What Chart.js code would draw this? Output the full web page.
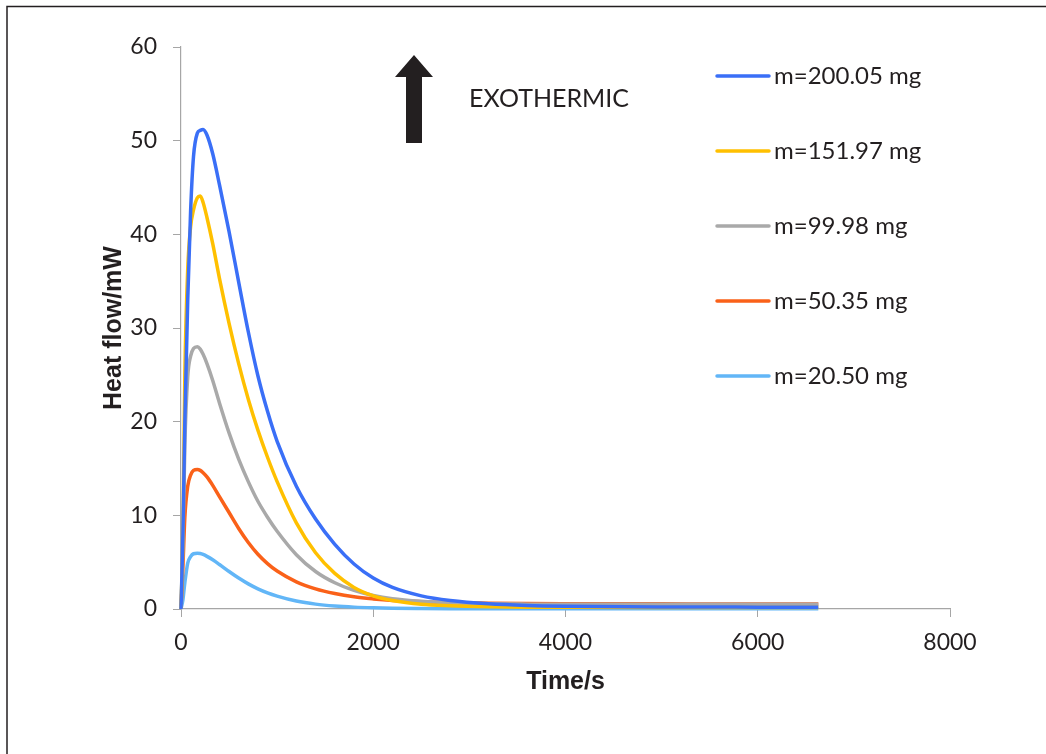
<!DOCTYPE html>
<html>
<head>
<meta charset="utf-8">
<script src="https://cdn.jsdelivr.net/npm/chart.js@4.4.1/dist/chart.umd.min.js"></script>
<style>
  html, body { margin: 0; padding: 0; background: #ffffff; }
  #wrap { position: relative; width: 1046px; height: 754px; }
</style>
</head>
<body>
<div id="wrap"><canvas id="c" width="1046" height="754"></canvas></div>
<script>
// ---- data ----
const times = [0, 20, 40, 70, 100, 130, 170, 200, 230, 270, 330, 400, 500, 600, 700, 800, 900, 1000, 1200, 1400, 1600, 1800, 2000, 2200, 2500, 2800, 3200, 3600, 4000, 5000, 6000, 6630];

const seriesLabels = ["m=200.05 mg", "m=151.97 mg", "m=99.98 mg", "m=50.35 mg", "m=20.50 mg"];

const heat200 = [0, 8, 20, 33, 42.5, 48.3, 50.8, 51.1, 51.2, 50.6, 48.6, 45.3, 40.3, 34.9, 29.6, 24.9, 21.1, 17.9, 13.1, 9.6, 6.9, 4.8, 3.3, 2.3, 1.4, 0.9, 0.55, 0.38, 0.3, 0.22, 0.2, 0.2];
const heat152 = [0, 8, 25, 36.3, 40.8, 42.6, 43.9, 44.1, 43.4, 41.8, 39.0, 35.3, 30.5, 26.2, 22.4, 19.1, 16.2, 13.6, 9.2, 6.0, 3.8, 2.3, 1.4, 0.9, 0.5, 0.35, 0.25, 0.2, 0.18, 0.15, 0.15, 0.15];
const heat100 = [0, 7, 17.5, 24.8, 27.0, 27.8, 28.0, 27.75, 27.2, 26.2, 24.4, 22.0, 18.8, 16.0, 13.6, 11.5, 9.8, 8.3, 5.8, 4.0, 2.8, 2.0, 1.45, 1.1, 0.82, 0.66, 0.56, 0.52, 0.5, 0.5, 0.5, 0.5];
const heat50 = [0, 4.5, 9.8, 13.1, 14.3, 14.8, 14.9, 14.8, 14.55, 14.1, 13.2, 12.0, 10.3, 8.6, 7.1, 5.85, 4.85, 4.05, 2.9, 2.15, 1.65, 1.3, 1.08, 0.92, 0.78, 0.68, 0.62, 0.58, 0.57, 0.55, 0.53, 0.53];
const heat20 = [0, 1.0, 2.8, 4.9, 5.6, 5.9, 5.95, 5.92, 5.82, 5.62, 5.25, 4.75, 4.0, 3.3, 2.68, 2.15, 1.72, 1.38, 0.85, 0.52, 0.32, 0.2, 0.13, 0.09, 0.06, 0.04, 0.03, 0.02, 0.02, 0.02, 0.02, 0.02];

const seriesValues = [heat200, heat152, heat100, heat50, heat20];
const seriesColors = ["#3A6FF7", "#FFC000", "#A9A9A9", "#FA6119", "#62B6F7"];

const xTicks = [0, 2000, 4000, 6000, 8000];
const yTicks = [0, 10, 20, 30, 40, 50, 60];

const annotationText = "EXOTHERMIC";
const xTitle = "Time/s";
const yTitle = "Heat flow/mW";

// ---- chart ----
const TICK_FONT = { family: "Lato, 'Open Sans', sans-serif", size: 23 };
const TEXT_COLOR = "#231f20";
const AXIS_COLOR = "#a6a6a6";

const datasets = seriesValues.map((vals, i) => ({
  label: seriesLabels[i],
  data: times.map((t, k) => ({ x: t, y: vals[k] })),
  borderColor: seriesColors[i],
  backgroundColor: seriesColors[i],
  borderWidth: 3.5,
  pointRadius: 0,
  fill: false,
  cubicInterpolationMode: 'monotone',
  clip: 4
}));

const framePlugin = {
  id: 'frame',
  afterDraw(chart) {
    const ctx = chart.ctx;
    ctx.save();
    // figure border (top and left)
    ctx.strokeStyle = "#231f20";
    ctx.lineWidth = 1.5;
    ctx.beginPath();
    ctx.moveTo(7, 754);
    ctx.lineTo(7, 6.5);
    ctx.lineTo(1046, 6.5);
    ctx.stroke();

    // arrow
    ctx.fillStyle = "#231f20";
    ctx.beginPath();
    ctx.moveTo(406, 143);
    ctx.lineTo(422, 143);
    ctx.lineTo(422, 77);
    ctx.lineTo(433, 77);
    ctx.lineTo(414, 55);
    ctx.lineTo(395, 77);
    ctx.lineTo(406, 77);
    ctx.closePath();
    ctx.fill();

    // annotation text
    ctx.font = "25px Lato, 'Open Sans', sans-serif";
    ctx.textBaseline = "middle";
    ctx.textAlign = "left";
    ctx.fillStyle = TEXT_COLOR;
    ctx.fillText(annotationText, 469, 99);

    // legend
    const rowY = [76, 151, 226, 301, 376];
    chart.data.datasets.forEach((ds, i) => {
      const y = rowY[i];
      ctx.strokeStyle = ds.borderColor;
      ctx.lineWidth = 3.5;
      ctx.lineCap = "round";
      ctx.beginPath();
      ctx.moveTo(717, y);
      ctx.lineTo(769, y);
      ctx.stroke();
      ctx.fillStyle = TEXT_COLOR;
      ctx.font = "24px Lato, 'Open Sans', sans-serif";
      ctx.fillText(ds.label, 774, y);
    });
    ctx.restore();
  }
};

new Chart(document.getElementById('c'), {
  type: 'line',
  data: { datasets },
  options: {
    responsive: false,
    animation: false,
    events: [],
    layout: { padding: { left: 0, top: 47, right: 96, bottom: 0 } },
    plugins: { legend: { display: false }, tooltip: { enabled: false } },
    scales: {
      x: {
        type: 'linear',
        min: 0, max: 8000,
        afterBuildTicks: (s) => { s.ticks = xTicks.map(v => ({ value: v })); },
        afterFit: (s) => { s.height = 145; },
        grid: { drawOnChartArea: false, drawTicks: true, tickLength: 8, color: AXIS_COLOR },
        border: { color: AXIS_COLOR, width: 1.2 },
        ticks: { font: TICK_FONT, color: TEXT_COLOR, padding: 12, maxRotation: 0, callback: (v) => String(v) },
        title: {
          display: true, text: xTitle, color: TEXT_COLOR,
          font: { family: "'Liberation Sans', Arial, sans-serif", size: 25, weight: 'bold' },
          padding: { top: 0, bottom: 57 }
        }
      },
      y: {
        type: 'linear',
        min: 0, max: 60,
        afterBuildTicks: (s) => { s.ticks = yTicks.map(v => ({ value: v })); },
        afterFit: (s) => { s.width = 181; },
        grid: { drawOnChartArea: false, drawTicks: true, tickLength: 8, color: AXIS_COLOR },
        border: { color: AXIS_COLOR, width: 1.2 },
        ticks: { font: TICK_FONT, color: TEXT_COLOR, padding: 16, callback: (v) => String(v) },
        title: {
          display: true, text: yTitle, color: TEXT_COLOR,
          font: { family: "'Liberation Sans', Arial, sans-serif", size: 25, weight: 'bold' },
          padding: { top: 99, bottom: 0 }
        }
      }
    }
  },
  plugins: [framePlugin]
});
</script>
</body>
</html>
